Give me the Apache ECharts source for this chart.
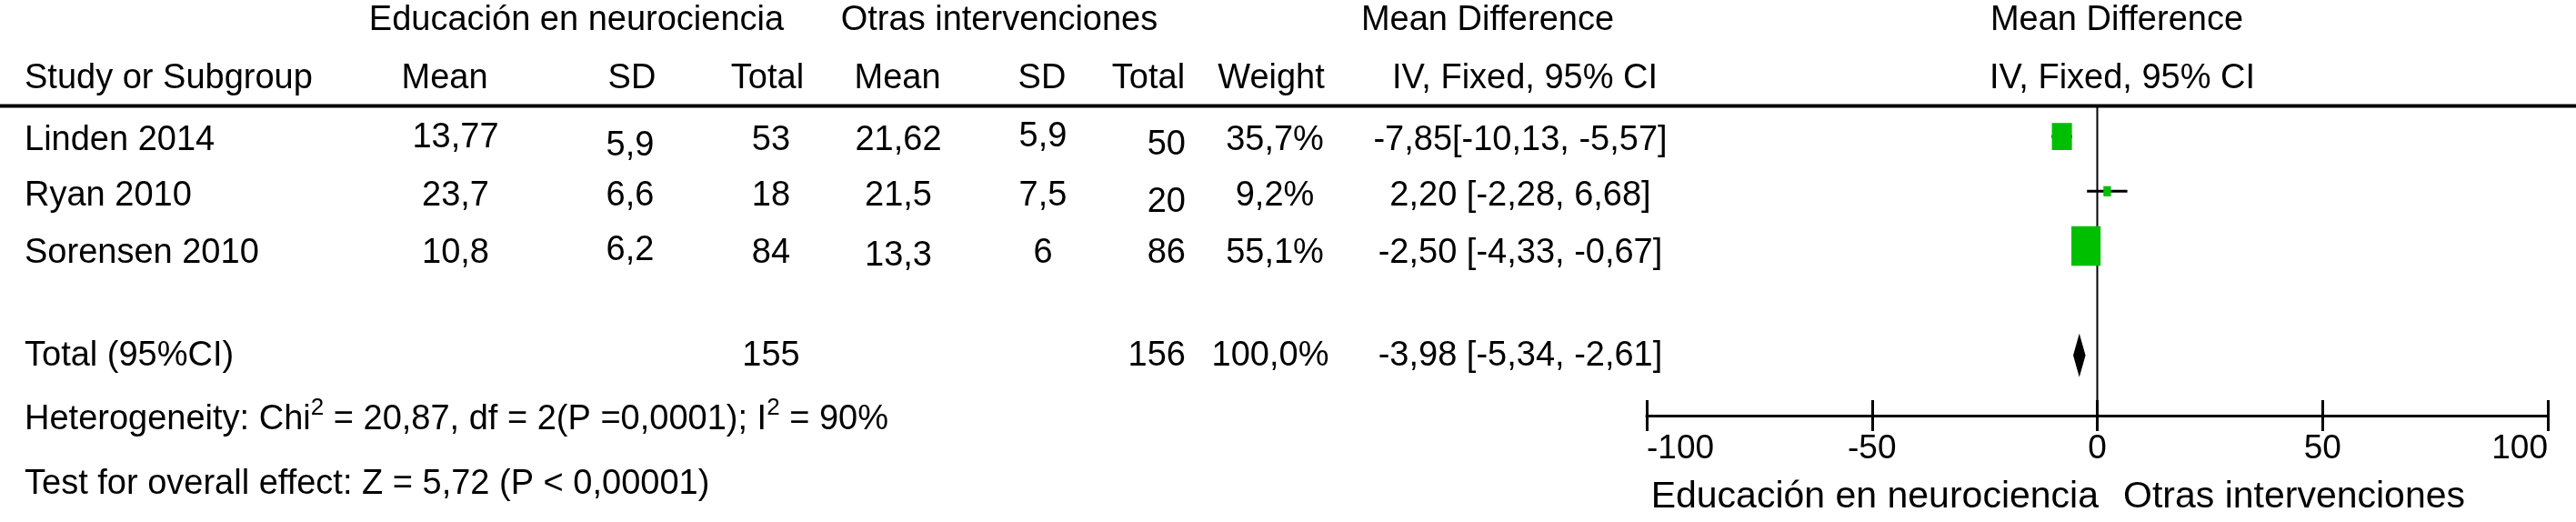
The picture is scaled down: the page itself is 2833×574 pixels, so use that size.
<!DOCTYPE html>
<html><head><meta charset="utf-8">
<script src="https://cdn.jsdelivr.net/npm/echarts@6/dist/echarts.min.js"></script>
<style>html,body{margin:0;padding:0;background:#fff}#c{width:2833px;height:574px}</style>
</head><body><div id="c"></div>
<script>
// ---------------- data ----------------
const studies  = ['Linden 2014', 'Ryan 2010', 'Sorensen 2010'];
const eduMean  = [13.77, 23.7, 10.8];
const eduSD    = [5.9, 6.6, 6.2];
const eduN     = [53, 18, 84];
const otrMean  = [21.62, 21.5, 13.3];
const otrSD    = [5.9, 7.5, 6];
const otrN     = [50, 20, 86];
const weights  = [35.7, 9.2, 55.1];
const md       = [-7.85, 2.20, -2.50];
const ciLow    = [-10.13, -2.28, -4.33];
const ciHigh   = [-5.57, 6.68, -0.67];
const totalLabel  = 'Total (95%CI)';
const eduTotal    = 155;
const otrTotal    = 156;
const totalWeight = 100.0;
const totalMD     = -3.98;
const totalLow    = -5.34;
const totalHigh   = -2.61;
const hetChi2 = 20.87, hetDf = 2, hetP = '0,0001', hetI2 = 90;
const zValue = 5.72, zP = '0,00001';
const xTicks = [-100, -50, 0, 50, 100];
const groupLeft  = 'Educación en neurociencia';
const groupRight = 'Otras intervenciones';

// ---------------- layout ----------------
const FONT = '"Liberation Sans", Arial, Helvetica, sans-serif';
const FS = 38;
const rowSlot = [1, 2, 3];      // y-axis slot of each study
const totalSlot = 5;
const rowY = [155, 216, 279];   // text centre of each study row
const totalY = 392;
const ciGap = ['', ' ', ' '];
const nudge = {'eduSD0': 6, 'otrSD0': -4, 'otrN0': 5, 'otrN1': 7, 'eduMean0': -3, 'eduSD2': -3, 'otrMean2': 3};

const fmt  = v => String(v).replace('.', ',');
const fmt1 = v => v.toFixed(1).replace('.', ',');
const fmt2 = v => v.toFixed(2).replace('.', ',');

function T(x, y, s, align, size, extra) {
  return Object.assign({
    type: 'text', x: x, y: y, silent: true,
    style: { text: s, align: align || 'center', verticalAlign: 'middle',
             fontFamily: FONT, fontSize: size || FS, fill: '#000' }
  }, extra || {});
}

const g = [];
// headers
g.push(T(634, 23, groupLeft));
g.push(T(1099, 23, groupRight));
g.push(T(1636, 23, 'Mean Difference'));
g.push(T(2328, 23, 'Mean Difference'));
g.push(T(27, 87, 'Study or Subgroup', 'left'));
g.push(T(489, 87, 'Mean'));
g.push(T(695, 87, 'SD'));
g.push(T(844, 87, 'Total'));
g.push(T(987, 87, 'Mean'));
g.push(T(1146, 87, 'SD'));
g.push(T(1263, 87, 'Total'));
g.push(T(1398, 87, 'Weight'));
g.push(T(1677, 87, 'IV, Fixed, 95% CI'));
g.push(T(2334, 87, 'IV, Fixed, 95% CI'));
// header rule
g.push({ type: 'line', silent: true, shape: { x1: 0, y1: 116.5, x2: 2833, y2: 116.5 },
         style: { stroke: '#000', lineWidth: 4 } });

// study rows
studies.forEach((s, i) => {
  const y = rowY[i];
  const n = k => (nudge[k + i] || 0);
  g.push(T(27, y, s, 'left'));
  g.push(T(501, y + n('eduMean'), fmt(eduMean[i])));
  g.push(T(693, y + n('eduSD'), fmt(eduSD[i])));
  g.push(T(848, y + n('eduN'), String(eduN[i])));
  g.push(T(988, y + n('otrMean'), fmt(otrMean[i])));
  g.push(T(1147, y + n('otrSD'), fmt(otrSD[i])));
  g.push(T(1304, y + n('otrN'), String(otrN[i]), 'right'));
  g.push(T(1402, y, fmt1(weights[i]) + '%'));
  g.push(T(1672, y, fmt2(md[i]) + ciGap[i] + '[' + fmt2(ciLow[i]) + ', ' + fmt2(ciHigh[i]) + ']'));
});
// total row
g.push(T(27, totalY, totalLabel, 'left'));
g.push(T(848, totalY, String(eduTotal)));
g.push(T(1304, totalY, String(otrTotal), 'right'));
g.push(T(1397, totalY, fmt1(totalWeight) + '%'));
g.push(T(1672, totalY, fmt2(totalMD) + ' [' + fmt2(totalLow) + ', ' + fmt2(totalHigh) + ']'));
// heterogeneity / overall effect
g.push({
  type: 'text', x: 27, y: 462, silent: true,
  style: {
    text: 'Heterogeneity: Chi{sup|2} = ' + fmt(hetChi2) + ', df = ' + hetDf + '(P =' + hetP + '); I{sup|2} = ' + hetI2 + '%',
    align: 'left', verticalAlign: 'middle', fontFamily: FONT, fontSize: FS, fill: '#000', lineHeight: 52,
    rich: { sup: { fontFamily: FONT, fontSize: 26, lineHeight: 26, verticalAlign: 'top', fill: '#000' } }
  }
});
g.push(T(27, 533, 'Test for overall effect: Z = ' + fmt(zValue) + ' (P < ' + zP + ')', 'left'));
// axis direction labels
g.push(T(2308, 547, groupLeft, 'right', 41));
g.push(T(2335, 547, groupRight, 'left', 41));

const chart = echarts.init(document.getElementById('c'), null, { renderer: 'canvas' });
const axisCommon = { type: 'value', min: xTicks[0], max: xTicks[xTicks.length - 1], interval: 50, gridIndex: 0 };
chart.setOption({
  animation: false,
  backgroundColor: '#fff',
  grid: { left: 1811, right: 31, top: 117, bottom: 117, containLabel: false },
  xAxis: [
    Object.assign({}, axisCommon, {
      position: 'bottom',
      axisLine: { show: true, onZero: false, lineStyle: { color: '#000', width: 3 } },
      axisTick: { show: true, length: 17, lineStyle: { color: '#000', width: 3 } },
      axisLabel: { show: true, color: '#000', fontFamily: FONT, fontSize: 37, margin: 18,
                   alignMinLabel: 'left', alignMaxLabel: 'right', showMinLabel: true, showMaxLabel: true },
      splitLine: { show: false }
    }),
    Object.assign({}, axisCommon, {
      position: 'bottom',
      axisLine: { show: false, onZero: false },
      axisTick: { show: true, inside: true, length: 17, lineStyle: { color: '#000', width: 3 } },
      axisLabel: { show: false },
      splitLine: { show: false }
    })
  ],
  yAxis: { type: 'value', min: 0.45, max: 6.1, inverse: true, show: false },
  graphic: g,
  series: [
    { // line of no effect
      type: 'custom', xAxisIndex: 0, silent: true, clip: false,
      data: [[0]],
      renderItem: function (params, api) {
        const a = api.coord([api.value(0), 0.45]);
        const b = api.coord([api.value(0), 6.1]);
        return { type: 'line', shape: { x1: a[0], y1: a[1], x2: b[0], y2: b[1] },
                 style: { stroke: '#000', lineWidth: 2 } };
      }
    },
    { // studies
      type: 'custom', xAxisIndex: 0, silent: true, clip: false,
      data: studies.map((s, i) => [md[i], ciLow[i], ciHigh[i], weights[i], rowSlot[i]]),
      encode: { x: [0, 1, 2], y: 4 },
      renderItem: function (params, api) {
        const r = api.value(4);
        const pm = api.coord([api.value(0), r]);
        const pl = api.coord([api.value(1), r]);
        const ph = api.coord([api.value(2), r]);
        const bw = 3.5 + 0.52 * api.value(3);
        const bh = bw * 1.35;
        return { type: 'group', children: [
          { type: 'line', shape: { x1: pl[0], y1: pl[1], x2: ph[0], y2: ph[1] },
            style: { stroke: '#000', lineWidth: 3 } },
          { type: 'rect', shape: { x: pm[0] - bw / 2, y: pm[1] - bh / 2, width: bw, height: bh },
            style: { fill: '#00bf00' } }
        ] };
      }
    },
    { // pooled diamond
      type: 'custom', xAxisIndex: 0, silent: true, clip: false,
      data: [[totalMD, totalLow, totalHigh, totalSlot]],
      encode: { x: [0, 1, 2], y: 3 },
      renderItem: function (params, api) {
        const r = api.value(3);
        const pm = api.coord([api.value(0), r]);
        const pl = api.coord([api.value(1), r]);
        const ph = api.coord([api.value(2), r]);
        const h = 24;
        return { type: 'polygon',
          shape: { points: [[pl[0], pl[1]], [pm[0], pm[1] - h], [ph[0], ph[1]], [pm[0], pm[1] + h]] },
          style: { fill: '#000' } };
      }
    }
  ]
});
</script>
</body></html>
